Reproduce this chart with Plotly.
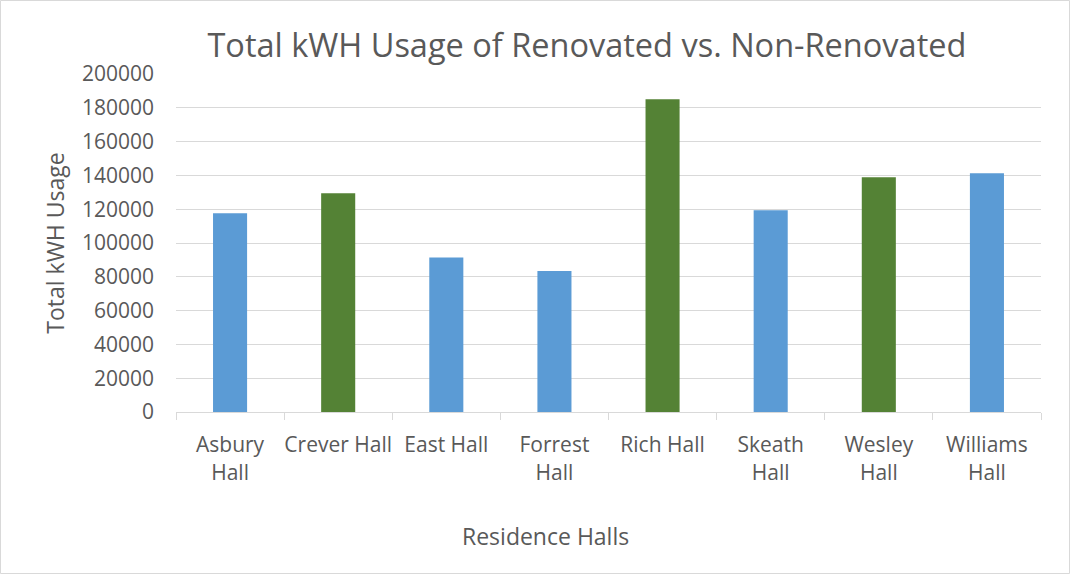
import plotly.graph_objects as go

halls = ["Asbury Hall", "Crever Hall", "East Hall", "Forrest Hall",
         "Rich Hall", "Skeath Hall", "Wesley Hall", "Williams Hall"]
hall_labels = ["Asbury<br>Hall", "Crever Hall", "East Hall", "Forrest<br>Hall",
               "Rich Hall", "Skeath<br>Hall", "Wesley<br>Hall", "Williams<br>Hall"]
kwh_usage = [117600, 129400, 91400, 83400, 185000, 119400, 138900, 141200]
renovated = [False, True, False, False, True, False, True, False]

BLUE = "#5B9BD5"
GREEN = "#548235"
TEXT = "#595959"
GRID = "#D9D9D9"
FONT = "Open Sans"

W, H = 1071, 575
L, R, T, B = 176, 30, 74, 163
pw, ph = W - L - R, H - T - B

fig = go.Figure(
    go.Bar(
        x=halls,
        y=kwh_usage,
        marker_color=[GREEN if r else BLUE for r in renovated],
        marker_line_width=0,
        showlegend=False,
    )
)

fig.update_layout(
    width=W,
    height=H,
    margin=dict(l=L, r=R, t=T, b=B),
    plot_bgcolor="white",
    paper_bgcolor="white",
    bargap=0.685,
    font=dict(family=FONT, color=TEXT, size=21),
    title=dict(
        text="Total kWH Usage of Renovated vs. Non-Renovated",
        x=0.548, xanchor="center",
        y=0.92, yanchor="middle",
        font=dict(size=32.5, color=TEXT, family=FONT),
    ),
)

fig.update_xaxes(
    tickvals=halls,
    ticktext=hall_labels,
    tickson="boundaries",
    ticks="outside",
    ticklen=7,
    tickcolor=GRID,
    showline=True,
    linecolor=GRID,
    linewidth=1,
    tickfont=dict(size=21, color=TEXT),
    tickangle=0,
    ticklabelstandoff=14,
)

fig.update_yaxes(
    range=[0, 200000],
    dtick=20000,
    showgrid=True,
    gridcolor=GRID,
    gridwidth=1,
    zeroline=False,
    showline=False,
    tickformat="d",
    ticklabelstandoff=21,
    tickfont=dict(size=21, color=TEXT),
    title=dict(text="Total kWH Usage", font=dict(size=23, color=TEXT), standoff=10),
)

# x title sits left of the plot centre in the original, so place it by hand
fig.add_annotation(
    text="Residence Halls",
    xref="paper", yref="paper",
    x=(545 - L) / pw, y=-(536 - (T + ph)) / ph,
    xanchor="center", yanchor="middle",
    showarrow=False,
    font=dict(size=23, color=TEXT, family=FONT),
)

# thin chart border around the whole picture
fig.add_shape(
    type="rect", xref="paper", yref="paper",
    x0=(-L + 0.5) / pw, x1=(pw + R - 1.5) / pw,
    y0=(-B + 1.5) / ph, y1=(ph + T - 0.5) / ph,
    line=dict(color=GRID, width=1),
    layer="below",
)

# page has a default body margin; drop it so the figure sits at the corner
fig.write_html(
    "out.html",
    config={"displayModeBar": False},
    post_script="document.body.style.margin='0';",
)
